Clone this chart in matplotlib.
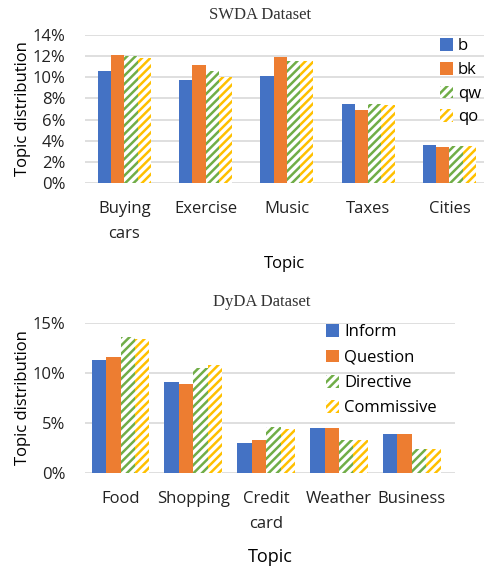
import numpy as np
import matplotlib
matplotlib.use("Agg")
import matplotlib.pyplot as plt
from matplotlib.ticker import FuncFormatter

# SWDA data (percent)
swda_topics = ["Buying\ncars", "Exercise", "Music", "Taxes", "Cities"]
swda_series = ["b", "bk", "qw", "qo"]
swda_b = [10.6, 9.75, 10.1, 7.5, 3.57]
swda_bk = [12.15, 11.2, 11.95, 6.9, 3.43]
swda_qw = [12.05, 10.6, 11.55, 7.45, 3.5]
swda_qo = [11.85, 10.05, 11.5, 7.4, 3.5]

# DyDA data (percent)
dyda_topics = ["Food", "Shopping", "Credit\ncard", "Weather", "Business"]
dyda_series = ["Inform", "Question", "Directive", "Commissive"]
dyda_inform = [11.3, 9.1, 3.0, 4.5, 3.85]
dyda_question = [11.6, 8.9, 3.3, 4.5, 3.85]
dyda_directive = [13.6, 10.5, 4.6, 3.3, 2.4]
dyda_commissive = [13.4, 10.8, 4.35, 3.3, 2.4]

colors = ["#4472C4", "#ED7D31", "#70AD47", "#FFC000"]
hatched = [False, False, True, True]

plt.rcParams["font.family"] = ["Open Sans", "DejaVu Sans"]
plt.rcParams["hatch.linewidth"] = 1.8

fig = plt.figure(figsize=(4.84, 5.70), dpi=100)


def draw(ax, topics, series, values, width, ymax, ystep, xlim):
    x = np.arange(len(topics))
    for i, (name, vals) in enumerate(zip(series, values)):
        pos = x + (i - 1.5) * width
        if hatched[i]:
            ax.bar(pos, vals, width, color="white", edgecolor=colors[i],
                   hatch="////", linewidth=0, label=name, zorder=3)
        else:
            ax.bar(pos, vals, width, color=colors[i], linewidth=0,
                   label=name, zorder=3)
    ax.set_xlim(*xlim)
    ax.set_ylim(0, ymax)
    ax.set_yticks(np.arange(0, ymax + 0.1, ystep))
    ax.yaxis.set_major_formatter(FuncFormatter(lambda v, p: f"{v:.0f}%"))
    ax.set_xticks(x)
    ax.set_xticklabels(topics, linespacing=1.75)
    ax.yaxis.grid(True, color="#d9d9d9", linewidth=1.2, zorder=0)
    ax.set_axisbelow(True)
    for s in ax.spines.values():
        s.set_visible(False)
    ax.tick_params(axis="both", length=0, labelsize=12, colors="#222222")
    ax.tick_params(axis="y", pad=14)
    ax.tick_params(axis="x", pad=13)
    ax.set_ylabel("Topic distribution", fontsize=12, labelpad=1)


ax1 = fig.add_axes([0.1756, 0.6789, 0.8244, 0.2596])
draw(ax1, swda_topics, swda_series, [swda_b, swda_bk, swda_qw, swda_qo],
     0.163, 14, 2, (-0.486, 4.425))
ax1.set_xlabel("Topic", fontsize=12, labelpad=10)
ax1.legend(loc="upper right", bbox_to_anchor=(1.03, 1.08), frameon=False,
           fontsize=12, handlelength=0.8, handleheight=0.8, handletextpad=0.3,
           labelspacing=0.45)
fig.text(260 / 484, 1 - 15 / 570, "SWDA Dataset", family="Liberation Serif",
         fontsize=12, color="#333333", ha="center", va="center")

ax2 = fig.add_axes([0.1756, 0.1707, 0.7645, 0.2632])
draw(ax2, dyda_topics, dyda_series,
     [dyda_inform, dyda_question, dyda_directive, dyda_commissive],
     0.198, 15, 5, (-0.488, 4.594))
ax2.set_xlabel("Topic", fontsize=13, labelpad=12)
ax2.legend(loc="upper left", bbox_to_anchor=(0.61, 1.09), frameon=False,
           fontsize=12, handlelength=0.8, handleheight=0.8, handletextpad=0.3,
           labelspacing=0.55)
fig.text(262 / 484, 1 - 302 / 570, "DyDA Dataset", family="Liberation Serif",
         fontsize=12, color="#333333", ha="center", va="center")

fig.savefig("out.png", dpi=100)
